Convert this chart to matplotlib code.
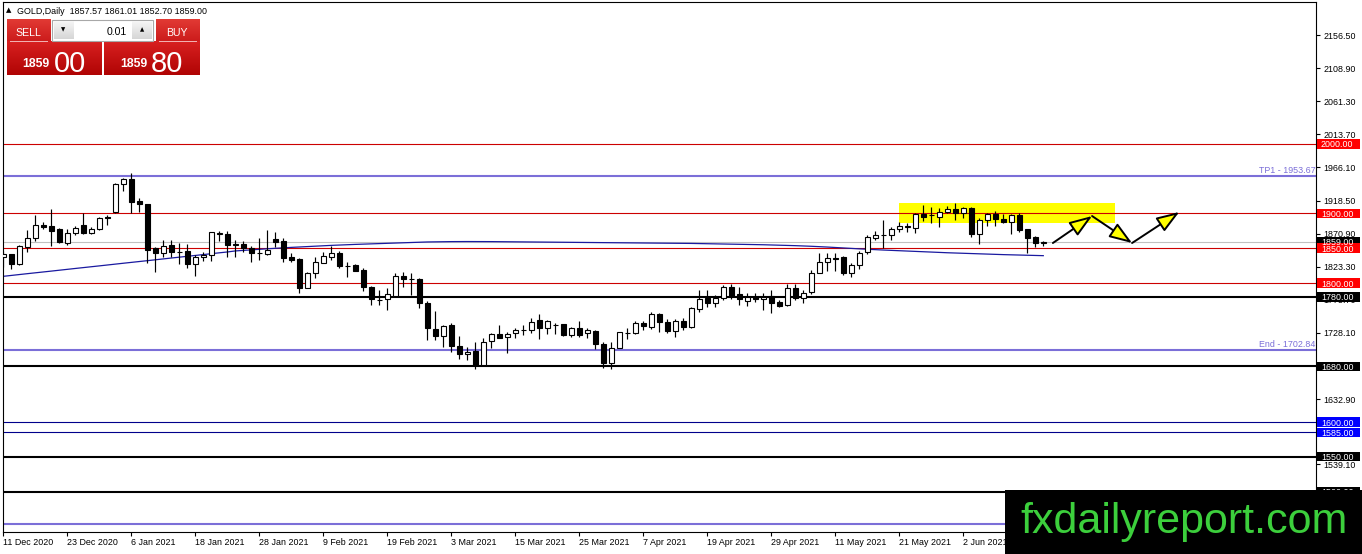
import matplotlib
matplotlib.use("Agg")
import matplotlib.pyplot as plt
from matplotlib.patches import Rectangle
from matplotlib.font_manager import fontManager
from matplotlib.transforms import blended_transform_factory
import numpy as np

# ---------------- data ----------------
title_text = "GOLD,Daily  1857.57 1861.01 1852.70 1859.00"
date_labels = ["11 Dec 2020", "23 Dec 2020", "6 Jan 2021", "18 Jan 2021", "28 Jan 2021",
               "9 Feb 2021", "19 Feb 2021", "3 Mar 2021", "15 Mar 2021", "25 Mar 2021",
               "7 Apr 2021", "19 Apr 2021", "29 Apr 2021", "11 May 2021", "21 May 2021",
               "2 Jun 2021"]
date_label_bars = [0, 8, 16, 24, 32, 40, 48, 56, 64, 72, 80, 88, 96, 104, 112, 120]

opens = [1838, 1841, 1827, 1852, 1864, 1884, 1882, 1877, 1858, 1872,
         1883, 1872, 1877, 1895, 1902.5, 1942, 1949, 1918, 1913, 1850,
         1843, 1854.5, 1845, 1846, 1827, 1837, 1840, 1871, 1870, 1855,
         1855.5, 1849.7, 1842.5, 1841, 1863, 1860, 1837, 1834.4, 1793.2, 1814.8,
         1829, 1837.8, 1842.5, 1825, 1825.8, 1818.6, 1794.6, 1775.5, 1776.9, 1781.6,
         1810, 1805.2, 1805.6, 1770.7, 1733.7, 1724.2, 1739.5, 1709.8, 1697.3, 1702,
         1682, 1716.5, 1726, 1721.8, 1727.5, 1732.3, 1732.3, 1746.7, 1735.6, 1739.5,
         1740.4, 1725.1, 1735.6, 1727.5, 1730.8, 1711.7, 1684.4, 1706.9, 1727.5, 1727.5,
         1742.8, 1737.1, 1755, 1744.3, 1731.3, 1745.7, 1736, 1762, 1777.8, 1770.6,
         1777.8, 1793.6, 1783.6, 1774.5, 1780.2, 1776.4, 1781.2, 1773, 1768.2, 1792.2,
         1777.8, 1787.4, 1813.8, 1830.6, 1836.3, 1836.8, 1814.7, 1825.8, 1844, 1864.1,
         1868.5, 1868.9, 1877, 1881, 1878.5, 1899.1, 1897.7, 1895.3, 1902.5, 1905.8,
         1900, 1907.3, 1869.9, 1890.5, 1899.1, 1891.4, 1888, 1897.7, 1877, 1865.5,
         1857.57]
highs = [1846, 1842, 1854.5, 1876, 1897, 1888, 1907, 1879, 1878, 1882,
         1900, 1881, 1895, 1898, 1944, 1951, 1957.6, 1922, 1914, 1852,
         1862, 1862, 1857, 1855.5, 1840, 1844, 1873, 1874.5, 1874, 1862,
         1860, 1853, 1864, 1876, 1873.7, 1864, 1842.5, 1835.4, 1816, 1837.7,
         1844, 1853.6, 1846, 1830.6, 1826.5, 1821, 1795.6, 1789.8, 1792.2, 1813.8,
         1816, 1813.8, 1806.6, 1774, 1759.6, 1739.5, 1741.9, 1723.7, 1708.3, 1715.5,
         1721.3, 1727.5, 1739.5, 1729, 1735.6, 1739.5, 1750, 1754.8, 1746, 1743,
         1741.5, 1737, 1745, 1735.6, 1732.3, 1715.5, 1715.5, 1729.9, 1734.7, 1745.2,
         1745, 1757.7, 1757.2, 1747.6, 1747.6, 1750, 1766, 1789.8, 1789.8, 1782.6,
         1797, 1798.4, 1794.6, 1786, 1785, 1785, 1789.8, 1775.4, 1798.4, 1798.4,
         1789.8, 1818.6, 1842.5, 1843.5, 1843.5, 1838.7, 1829, 1846, 1869, 1874,
         1890.5, 1880.9, 1888, 1886.6, 1900.1, 1912, 1909.6, 1907.3, 1910.6, 1915.4,
         1909.6, 1908.7, 1892.9, 1901, 1903.9, 1899.1, 1899.1, 1901, 1877, 1867.5,
         1861.01]
lows = [1823, 1820, 1826, 1844, 1860, 1878, 1853, 1857, 1855, 1869,
        1871, 1871, 1876, 1883, 1901, 1932, 1900, 1902, 1828, 1816,
        1838, 1838, 1827, 1822, 1810, 1832, 1832, 1860, 1838, 1838,
        1845, 1830.6, 1833, 1840, 1852, 1829.6, 1830.6, 1785, 1793, 1806.6,
        1828, 1833, 1821, 1809, 1816.5, 1788.4, 1768.3, 1768.3, 1761, 1781.6,
        1794.6, 1782.6, 1764.4, 1718, 1718, 1708.3, 1701, 1690.6, 1689, 1676.2,
        1681, 1706.9, 1720.3, 1698.7, 1721, 1725, 1727.5, 1719, 1726.5, 1726,
        1723.5, 1722.5, 1722.7, 1721.5, 1705, 1678, 1676, 1706.9, 1719, 1726,
        1732.3, 1733.4, 1729.9, 1727.5, 1721.8, 1732.3, 1735, 1758.7, 1765.9, 1765.9,
        1775.4, 1776.4, 1768.2, 1766.8, 1773, 1761.1, 1756.3, 1765.9, 1766.8, 1775.4,
        1770.6, 1784, 1813.8, 1817.6, 1817.6, 1811.4, 1808, 1819.5, 1841.6, 1861.7,
        1850, 1861.7, 1873.7, 1873.7, 1871.3, 1889.5, 1885.7, 1880.9, 1901, 1890.5,
        1892.9, 1865.5, 1856, 1881.8, 1881.8, 1885.7, 1869.9, 1873.7, 1843.5, 1851.2,
        1852.7]
closes = [1841, 1827, 1853, 1864, 1884, 1881, 1875, 1859, 1872, 1879,
          1872, 1877, 1894, 1894, 1942, 1949.5, 1917, 1913, 1847, 1842.5,
          1853.6, 1844, 1844, 1827, 1837, 1840, 1872.7, 1872, 1855, 1855.5,
          1850.7, 1842.5, 1843, 1847.4, 1859.3, 1836, 1833, 1793.2, 1813.8, 1829.6,
          1838.7, 1842.5, 1824.8, 1824.5, 1817.6, 1794.6, 1776.9, 1775, 1783.6, 1810,
          1805, 1805, 1770.7, 1734.7, 1724.2, 1738.5, 1709.8, 1697.3, 1700.2, 1682,
          1715.5, 1726, 1721.3, 1726.5, 1732.3, 1732.8, 1744.3, 1735.6, 1745.2, 1740,
          1725.1, 1735.6, 1725.1, 1732.3, 1711.7, 1684.4, 1706.9, 1728.9, 1728, 1742.8,
          1738.5, 1754.8, 1744.3, 1730.5, 1745.7, 1737.1, 1763.5, 1776.4, 1770.6, 1777.8,
          1794.6, 1781.2, 1776.4, 1780.2, 1776.4, 1780.2, 1771.6, 1767.3, 1792.2, 1777.8,
          1786, 1813.8, 1830.6, 1835.3, 1834.9, 1814.7, 1825.8, 1843.5, 1865.5, 1868.9,
          1869, 1877, 1881.8, 1881.5, 1899.1, 1895.3, 1898.2, 1902.5, 1906.3, 1901,
          1907.3, 1869.9, 1890.5, 1899.1, 1891.4, 1888, 1897.7, 1876.1, 1864.1, 1856.9,
          1859.0]
ma_values = [1809.5, 1810.8, 1812.0, 1813.3, 1814.5, 1815.8, 1817.0, 1818.3, 1819.5, 1820.8,
             1822.0, 1823.3, 1824.5, 1825.8, 1827.0, 1828.3, 1829.5, 1830.8, 1832.0, 1833.3,
             1834.5, 1835.8, 1837.0, 1838.3, 1839.5, 1840.8, 1842.0, 1843.3, 1844.5, 1846.0,
             1846.8, 1847.6, 1848.4, 1849.1, 1849.8, 1850.5, 1851.1, 1851.7, 1852.3, 1852.9,
             1853.5, 1854.0, 1854.5, 1855.0, 1855.4, 1855.8, 1856.2, 1856.6, 1857.0, 1857.4,
             1857.8, 1858.2, 1858.6, 1858.9, 1859.1, 1859.3, 1859.4, 1859.5, 1859.5, 1859.5,
             1859.4, 1859.4, 1859.3, 1859.3, 1859.2, 1859.1, 1859.0, 1858.9, 1858.8, 1858.7,
             1858.6, 1858.5, 1858.3, 1858.2, 1858.0, 1857.9, 1857.8, 1857.7, 1857.6, 1857.5,
             1857.4, 1857.3, 1857.2, 1857.1, 1857.0, 1856.9, 1856.8, 1856.6, 1856.4, 1856.1,
             1855.9, 1855.7, 1855.5, 1855.3, 1855.1, 1854.9, 1854.6, 1854.3, 1854.0, 1853.6,
             1853.2, 1852.7, 1852.2, 1851.6, 1851.0, 1850.3, 1849.6, 1849.0, 1848.4, 1847.8,
             1847.3, 1846.8, 1846.3, 1845.8, 1845.3, 1844.8, 1844.3, 1843.8, 1843.4, 1843.0,
             1842.6, 1842.2, 1841.8, 1841.4, 1841.0, 1840.7, 1840.4, 1840.1, 1839.8, 1839.5,
             1839.2]

price_ticks = [2156.50, 2108.90, 2061.30, 2013.70, 1966.10, 1918.50, 1870.90, 1823.30,
               1775.70, 1728.10, 1680.50, 1632.90, 1585.30, 1539.10, 1490.10]
resistance_levels = [2000.00, 1900.00, 1850.00, 1800.00]
support_levels = [1780.00, 1680.00, 1550.00, 1500.00]
blue_levels = [1600.00, 1585.00]
target_levels = [1953.67, 1702.84, 1453.00]
target_names = ["TP1 - 1953.67", "End - 1702.84", ""]
current_price = 1859.00
bid_small, bid_big = "1859", "00"
ask_small, ask_big = "1859", "80"
lot_size = "0.01"
zone_bars = (112.0, 139.0)
zone_prices = (1885.7, 1915.4)
path_bars = [131.2, 136.1, 141.1, 147.0]
path_prices = [1857.4, 1896.2, 1857.4, 1902.0]
watermark = "fxdailyreport.com"

# ---------------- fonts ----------------
names = {f.name for f in fontManager.ttflist}
if "Liberation Sans Narrow" in names:
    NARROW, K = "Liberation Sans Narrow", 1.0
else:
    NARROW, K = "Liberation Sans", 0.84
plt.rcParams["font.family"] = [NARROW, "DejaVu Sans"]
AX_FS = 7.6 * K

# ---------------- figure ----------------
W, H = 1362, 554
fig = plt.figure(figsize=(W / 100, H / 100), dpi=100)
fig.patch.set_facecolor("white")
ax_l, ax_r, ax_t, ax_b = 2.7, 1316, 2, 532
ax = fig.add_axes([ax_l / W, (H - ax_b) / H, (ax_r - ax_l) / W, (ax_b - ax_t) / H])
ax.set_xlim(-0.075, 164.09)
ax.set_ylim(1441.8, 2204.0)
ax.set_facecolor("white")
for s in ax.spines.values():
    s.set_color("black")
    s.set_linewidth(0.8)

# yellow zone
ax.add_patch(Rectangle((zone_bars[0], zone_prices[0]), zone_bars[1] - zone_bars[0],
                       zone_prices[1] - zone_prices[0], fc="#FFFF00", ec="none", zorder=0.5))

# horizontal levels
ax.axhline(current_price, color="#C0C0C0", lw=0.8, zorder=1)
for p in resistance_levels:
    ax.axhline(p, color="#CC0000", lw=0.8, zorder=1.2)
for p in support_levels:
    ax.axhline(p, color="black", lw=1.5, zorder=1.2)
for p in blue_levels:
    ax.axhline(p, color="#00008B", lw=0.8, zorder=1.2)
PURPLE = "#7B6FD8"
btrans = blended_transform_factory(ax.transAxes, ax.transData)
for p, name in zip(target_levels, target_names):
    ax.axhline(p, color=PURPLE, lw=1.5, zorder=1.2)
    if name:
        ax.text(0.9995, p + 1.5, name, transform=btrans, ha="right", va="bottom",
                color=PURPLE, fontsize=AX_FS, zorder=1.3)

# moving average
x = np.arange(len(opens))
ax.plot(x, ma_values, color="#1A1AA0", lw=0.9, zorder=2)

# candles
o = np.array(opens); c = np.array(closes); hi = np.array(highs); lo = np.array(lows)
ax.vlines(x, lo, hi, color="black", lw=0.85, zorder=3)
up = c >= o
body_h = np.maximum(np.abs(c - o), 0.3)
ax.bar(x, body_h, bottom=np.minimum(o, c), width=0.64,
       color=np.where(up, "white", "black"), edgecolor="black", linewidth=0.8, zorder=4)

# arrows path
for i in range(len(path_bars) - 1):
    ax.annotate("", xy=(path_bars[i + 1], path_prices[i + 1]),
                xytext=(path_bars[i], path_prices[i]),
                arrowprops=dict(arrowstyle="-|>,head_length=0.7,head_width=0.25",
                                mutation_scale=20, fc="#FFFF00", ec="black", lw=1.4,
                                shrinkA=0, shrinkB=0), zorder=5)

# axes ticks
ax.yaxis.tick_right()
ax.set_yticks(price_ticks)
ax.set_yticklabels([f"{p:.2f}" for p in price_ticks])
ax.tick_params(axis="y", direction="out", length=3, width=0.8, pad=2.5,
               labelsize=AX_FS, colors="black")
ax.set_xticks(date_label_bars)
ax.set_xticklabels(date_labels, ha="left")
ax.tick_params(axis="x", direction="out", length=3, width=0.8, pad=1.5,
               labelsize=AX_FS, colors="black")

# ---------------- overlay (pixel coordinates) ----------------
ov = fig.add_axes([0, 0, 1, 1])
ov.set_zorder(10)
ov.patch.set_alpha(0)
ov.axis("off")


def ypix(p):
    return ax.transData.transform((0, p))[1]


def img_rect(x0, y0, x1, y1, **kw):
    ov.add_patch(Rectangle((x0, H - y1), x1 - x0, y1 - y0, **kw))


def grad_rect(x0, y0, x1, y1, top, bottom, z=1):
    t = np.array(matplotlib.colors.to_rgb(top))
    b = np.array(matplotlib.colors.to_rgb(bottom))
    f = np.linspace(0, 1, 40)[:, None, None]
    arr = t[None, None, :] * (1 - f) + b[None, None, :] * f
    ov.imshow(arr, extent=(x0, x1, H - y1, H - y0), aspect="auto", zorder=z,
              interpolation="bilinear")


# price boxes on right axis
boxes = [(current_price, "black")] + [(p, "black") for p in support_levels] + \
        [(p, "#0000FF") for p in blue_levels] + [(p, "#FF0000") for p in resistance_levels]
for p, col in boxes:
    yd = ypix(p)
    ov.add_patch(Rectangle((1317, yd - 4.7), 43, 9.4, fc=col, ec="none", zorder=2))
    ov.text(1321, yd - 3.6, f"{p:.2f}", color="white", fontsize=AX_FS, va="baseline",
            ha="left", zorder=3)

# title
ov.text(8.5, H - 10, "\u25B2", fontsize=5, ha="center", va="center", color="black",
        family="DejaVu Sans")
ov.text(17, H - 14, title_text, fontsize=7.6 * K, ha="left", va="baseline", color="black")

# trade panel
grad_rect(7, 20, 50.5, 41.5, "#E23A34", "#CC1C1C")
grad_rect(7, 42, 101.5, 75.5, "#D82020", "#B00404")
grad_rect(156, 20, 199.5, 41.5, "#E23A34", "#CC1C1C")
grad_rect(104, 42, 199.5, 75.5, "#D82020", "#B00404")
img_rect(10, 40.6, 47.5, 41.6, fc="#F2B0B0", ec="none", zorder=2)
img_rect(159, 40.6, 196.5, 41.6, fc="#F2B0B0", ec="none", zorder=2)
img_rect(52, 20, 153, 41, fc="white", ec="#A8A8A8", lw=0.8, zorder=1)
grad_rect(53.5, 21.5, 73, 39.5, "#F6F6F6", "#D6D6D6", z=2)
grad_rect(132, 21.5, 151.5, 39.5, "#F6F6F6", "#D6D6D6", z=2)
ov.text(63, H - 29.5, "\u25BC", fontsize=4, ha="center", va="center", color="black",
        family="DejaVu Sans", zorder=3)
ov.text(142, H - 29.5, "\u25B2", fontsize=4, ha="center", va="center", color="black",
        family="DejaVu Sans", zorder=3)
ov.text(127, H - 35, lot_size, fontsize=9 * K, ha="right", va="baseline", color="black",
        zorder=3)
ov.text(28.5, H - 35.5, "SELL", fontsize=9 * K, ha="center", va="baseline", color="white",
        zorder=3)
ov.text(177, H - 35.5, "BUY", fontsize=9 * K, ha="center", va="baseline", color="white",
        zorder=3)
ov.text(22, H - 67, bid_small, fontsize=10.5 * K, ha="left", va="baseline", color="white",
        weight="bold", zorder=3)
ov.text(54, H - 72, bid_big, fontsize=25 * K, ha="left", va="baseline", color="white",
        zorder=3)
ov.text(120, H - 67, ask_small, fontsize=10.5 * K, ha="left", va="baseline", color="white",
        weight="bold", zorder=3)
ov.text(151, H - 72, ask_big, fontsize=25 * K, ha="left", va="baseline", color="white",
        zorder=3)

# watermark
ov.add_patch(Rectangle((1005, 0), W - 1005, H - 490, fc="black", ec="none", zorder=20))
ov.text(1020, H - 533, watermark, fontsize=31, family="Liberation Sans", color="#3CCF3C",
        ha="left", va="baseline", zorder=21)

ov.set_xlim(0, W)
ov.set_ylim(0, H)

fig.savefig("out.png", dpi=100, facecolor="white")
